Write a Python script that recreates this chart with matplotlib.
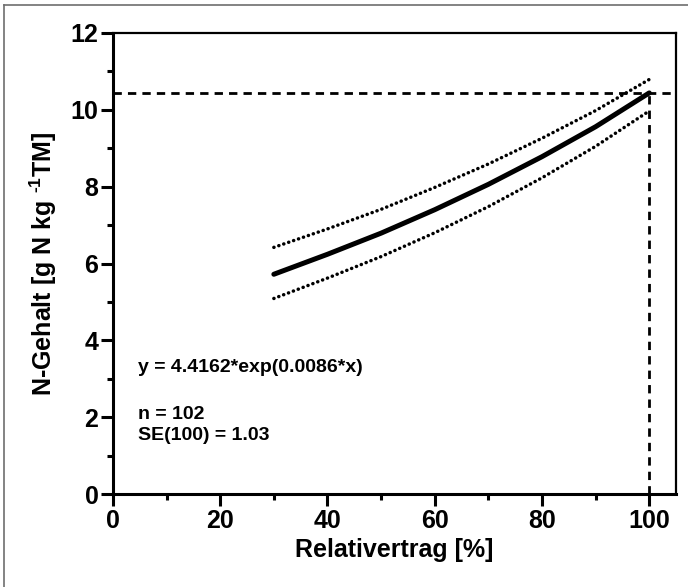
import matplotlib
matplotlib.use('Agg')
import matplotlib.pyplot as plt
from matplotlib.lines import Line2D

plt.rcParams['font.family'] = ['Liberation Sans', 'DejaVu Sans']
plt.rcParams['font.weight'] = 'bold'
plt.rcParams['mathtext.fontset'] = 'custom'
plt.rcParams['mathtext.bf'] = 'Liberation Sans:bold'
plt.rcParams['mathtext.rm'] = 'Liberation Sans:bold'
plt.rcParams['mathtext.default'] = 'bf'

# values
rel_ertrag = [30, 40, 50, 60, 70, 80, 90, 100]
n_fit = [5.72, 6.24, 6.79, 7.40, 8.06, 8.78, 9.56, 10.44]
n_upper = [6.42, 6.90, 7.41, 7.98, 8.59, 9.26, 9.98, 10.79]
n_lower = [5.09, 5.62, 6.18, 6.80, 7.48, 8.23, 9.05, 9.97]
x_max = 100
y_at_max = 10.44

eq_text = 'y = 4.4162*exp(0.0086*x)'
stat_text = 'n = 102\nSE(100) = 1.03'

fig = plt.figure(figsize=(6.88, 5.87), dpi=100)
ax = fig.add_axes([0.1642, 0.1584, 0.8184, 0.7854])

# outer frame (only left and top visible)
fig.add_artist(Line2D([3.5 / 688, 3.5 / 688], [0, 1 - 5 / 587], transform=fig.transFigure,
                      color='#6e6e6e', lw=1.2))
fig.add_artist(Line2D([3.5 / 688, 1], [1 - 5 / 587, 1 - 5 / 587], transform=fig.transFigure,
                      color='#6e6e6e', lw=1.2))

ax.plot(rel_ertrag, n_fit, color='black', lw=3.6, solid_capstyle='round')
ax.plot(rel_ertrag, n_upper, color='black', lw=2.5, linestyle=(0, (0.05, 1.45)),
        dash_capstyle='round')
ax.plot(rel_ertrag, n_lower, color='black', lw=2.5, linestyle=(0, (0.05, 1.45)),
        dash_capstyle='round')

ax.axhline(y_at_max, color='black', lw=2.0, linestyle=(0, (3.0, 2.2)))
ax.plot([x_max, x_max], [0, y_at_max], color='black', lw=2.0, linestyle=(0, (3.0, 2.2)))

ax.set_xlim(0, 105)
ax.set_ylim(0, 12)
ax.set_xticks([0, 20, 40, 60, 80, 100])
ax.set_xticks([10, 30, 50, 70, 90], minor=True)
ax.set_yticks([0, 2, 4, 6, 8, 10, 12])
ax.set_yticks([1, 3, 5, 7, 9, 11], minor=True)

ax.tick_params(which='major', direction='out', length=8.5, width=2.2, labelsize=18, pad=2)
ax.tick_params(which='minor', direction='out', length=4, width=2.2)
ax.tick_params(top=False, right=False)
for lbl in ax.get_xticklabels() + ax.get_yticklabels():
    lbl.set_fontweight('bold')

for side in ['left', 'bottom']:
    ax.spines[side].set_linewidth(2.2)
for side in ['top', 'right']:
    ax.spines[side].set_linewidth(1.6)

ax.set_xlabel('Relativertrag [%]', fontsize=18, fontweight='bold', labelpad=4)
ax.set_ylabel(r'N-Gehalt [g N kg $^{\text{-1}}$TM]', fontsize=18, fontweight='bold',
              labelpad=8)

ax.text(4.7, 3.3, eq_text, fontsize=14, fontweight='bold', va='center', ha='left')
ax.text(4.7, 1.8, stat_text, fontsize=14, fontweight='bold', va='center', ha='left',
        linespacing=1.3)

fig.savefig('out.png', dpi=100)
